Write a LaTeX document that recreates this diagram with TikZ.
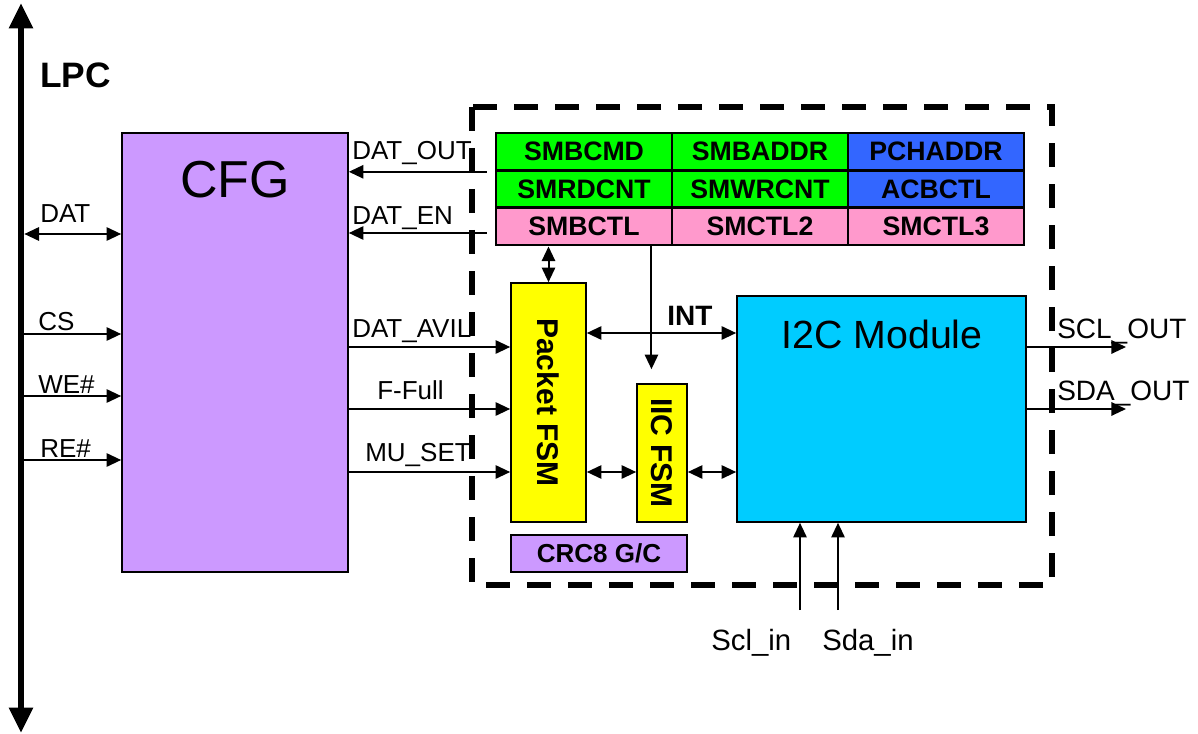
\documentclass[tikz,border=0pt]{standalone}
\usepackage{fontspec}
\setmainfont{Liberation Sans}
\usetikzlibrary{arrows.meta,positioning}
\definecolor{smPurple}{HTML}{CC99FF}
\definecolor{smGreen}{HTML}{00FF00}
\definecolor{smBlue}{HTML}{3366FF}
\definecolor{smPink}{HTML}{FF99CC}
\definecolor{smYellow}{HTML}{FFFF00}
\definecolor{smCyan}{HTML}{00CCFF}
\tikzset{
  blk/.style={draw=black, line width=1.2pt, inner sep=0pt},
  cfgbox/.style={blk, fill=smPurple, minimum width=169.5pt, minimum height=329.25pt},
  reg/.style={draw=black, line width=2.2pt, minimum width=132pt, minimum height=28pt, inner sep=0pt, font=\fontsize{20}{22}\selectfont\bfseries},
  fsm/.style={blk, fill=smYellow, font=\fontsize{22.5}{24}\selectfont\bfseries},
  lbl/.style={inner sep=0pt, anchor=base west, font=\fontsize{19.5}{21}\selectfont},
  ttl/.style={inner sep=0pt, anchor=base},
  arr/.style={-{Triangle[length=11pt,width=10pt]}, line width=1.5pt},
  darr/.style={{Triangle[length=11pt,width=10pt]}-{Triangle[length=11pt,width=10pt]}, line width=1.5pt},
  bus/.style={{Triangle[length=19pt,width=17pt]}-{Triangle[length=19pt,width=17pt]}, line width=4.5pt},
  grp/.style={draw=black, line width=4.5pt, dash pattern=on 18pt off 12.75pt},
}
\begin{document}
\begin{tikzpicture}[x=0.75pt, y=-0.75pt]
\useasboundingbox (0,0) rectangle (1198,734);
% LPC bus
\coordinate (busT) at (21,3);
\coordinate (busB) at (21,733);
\draw[bus] (busT) -- (busB);
\node[ttl, anchor=base west, font=\fontsize{26.5}{28}\selectfont\bfseries] (lpc) at (40,88) {LPC};

% blocks
\node[cfgbox] (cfg) at (235,352.5) {};
\node[ttl, font=\fontsize{39}{42}\selectfont] (cfgT) at (235,198) {CFG};
\foreach \nm/\t/\c/\r/\col in {smbcmd/SMBCMD/0/0/smGreen, smbaddr/SMBADDR/1/0/smGreen, pchaddr/PCHADDR/2/0/smBlue,
    smrdcnt/SMRDCNT/0/1/smGreen, smwrcnt/SMWRCNT/1/1/smGreen, acbctl/ACBCTL/2/1/smBlue,
    smbctl/SMBCTL/0/2/smPink, smctl2/SMCTL2/1/2/smPink, smctl3/SMCTL3/2/2/smPink}
  \node[reg, fill=\col] (\nm) at ({584+176*\c},{151.67+37.33*\r}) {\t};
\node[fsm, minimum width=56.25pt, minimum height=179.25pt] (pfsm) at (548.5,402.5) {\rotatebox{-90}{Packet FSM}};
\node[fsm, minimum width=37.5pt, minimum height=103.5pt] (iic) at (662,453) {\rotatebox{-90}{IIC FSM}};
\node[blk, fill=smCyan, minimum width=216.75pt, minimum height=169.5pt] (i2c) at (881.5,409) {};
\node[ttl, font=\fontsize{29.5}{32}\selectfont] (i2cT) at (882,348) {I2C Module};
\node[blk, fill=smPurple, minimum width=132pt, minimum height=27.75pt, font=\fontsize{19.5}{21}\selectfont\bfseries] (crc) at (599,553.5) {CRC8 G/C};

% LPC side
\draw[darr, shorten <=2.5pt] (busT |- 0,234) -- (cfg.west |- 0,234);
\foreach \y in {334,396,460} \draw[arr] (busT |- 0,\y) -- (cfg.west |- 0,\y);
\node[lbl] (lDat) at (40,223) {DAT};
\node[lbl] (lCs) at (38,330) {CS};
\node[lbl] (lWe) at (38,393) {WE\#};
\node[lbl] (lRe) at (40,457) {RE\#};

% CFG <-> registers / Packet FSM
\draw[arr, shorten <=6pt] (smbcmd.south west) -- (smbcmd.south west -| cfg.east);
\draw[arr, shorten <=6pt] ([yshift=-5pt]smbctl.west) -- ([yshift=-5pt]smbctl.west -| cfg.east);
\foreach \y in {347,409,472} \draw[arr] (cfg.east |- 0,\y) -- (pfsm.west |- 0,\y);
\node[lbl] (lDatOut) at (352,160) {DAT\_OUT};
\node[lbl] (lDatEn) at (352,224) {DAT\_EN};
\node[lbl] (lDatAvil) at (352,337) {DAT\_AVIL};
\node[lbl] (lFull) at (377,399) {F-Full};
\node[lbl] (lMuSet) at (365,461) {MU\_SET};

% inside
\draw[darr] (smbctl.south -| pfsm.north) -- (pfsm.north);
\draw[arr, shorten >=10.5pt] ([xshift=-16.5pt]smbctl.south east) -- ([xshift=-16.5pt]smbctl.south east |- iic.north);
\draw[darr] (pfsm.east |- 0,333) -- (i2c.west |- 0,333);
\node[lbl, font=\fontsize{21}{23}\selectfont\bfseries] (lInt) at (667,325) {INT};
\draw[darr] (pfsm.east |- 0,472) -- (iic.west |- 0,472);
\draw[darr] (iic.east |- 0,472) -- (i2c.west |- 0,472);

% I2C pins
\coordinate (sclOut) at (1126,347);
\coordinate (sdaOut) at (1126,409);
\draw[arr] (i2c.east |- sclOut) -- (sclOut);
\draw[arr] (i2c.east |- sdaOut) -- (sdaOut);
\node[lbl, font=\fontsize{21}{23}\selectfont] (lSclOut) at (1057,338) {SCL\_OUT};
\node[lbl, font=\fontsize{21}{23}\selectfont] (lSdaOut) at (1057,400) {SDA\_OUT};
\coordinate (sclIn) at (800,610);
\coordinate (sdaIn) at (838,610);
\draw[arr] (sclIn) -- (sclIn |- i2c.south);
\draw[arr] (sdaIn) -- (sdaIn |- i2c.south);
\node[lbl, font=\fontsize{22}{24}\selectfont] (lSclIn) at (711,650) {Scl\_in};
\node[lbl, font=\fontsize{22}{24}\selectfont] (lSdaIn) at (822,650) {Sda\_in};

% dashed group
\draw[grp] (472,107) rectangle (1052,585);
\end{tikzpicture}
\end{document}
